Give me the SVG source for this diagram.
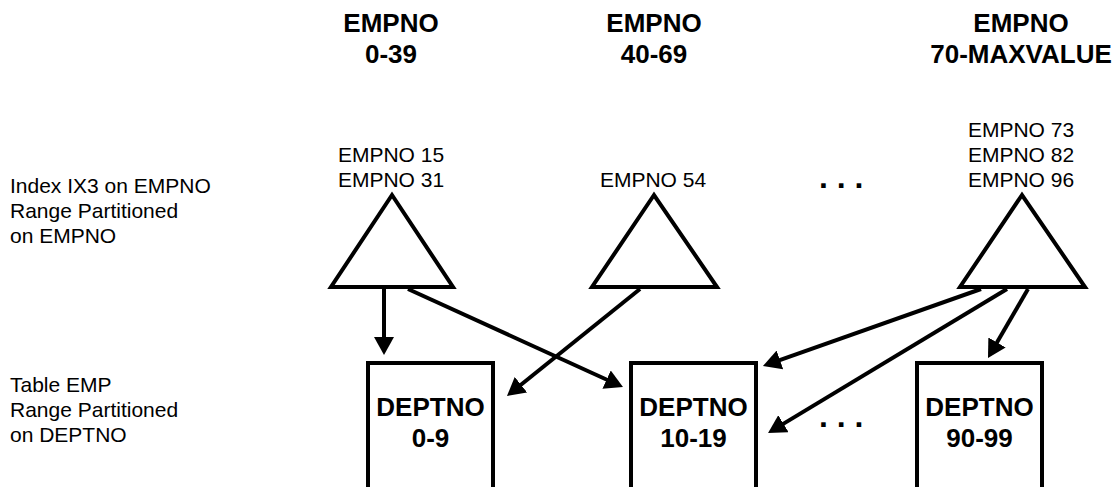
<svg xmlns="http://www.w3.org/2000/svg" width="1117" height="487" viewBox="0 0 1117 487">
<style>
.hdr{font-family:"Liberation Sans",Arial,sans-serif;font-weight:bold;font-size:26px;text-anchor:middle;fill:#000}
.sm{font-family:"Liberation Sans",Arial,sans-serif;font-size:21px;fill:#000}
.mid{text-anchor:middle}
.box{fill:#fff;stroke:#000;stroke-width:4}
.tri{fill:#fff;stroke:#000;stroke-width:4;stroke-linejoin:miter}
.con{stroke:#000;stroke-width:4;fill:none;marker-end:url(#ah)}
.dots{font-family:"Liberation Sans",Arial,sans-serif;font-weight:bold;font-size:32px;fill:#000}
</style>
<defs>
<marker id="ah" viewBox="0 0 18 20" refX="10" refY="10" markerWidth="18" markerHeight="20" markerUnits="userSpaceOnUse" orient="auto">
<path d="M0,0 L18,10 L0,20 z" fill="#000"/>
</marker>
</defs>
<rect width="1117" height="487" fill="#fff"/>
<g id="headers">
<text class="hdr" x="391" y="32">EMPNO</text>
<text class="hdr" x="391" y="63">0-39</text>
<text class="hdr" x="654" y="32">EMPNO</text>
<text class="hdr" x="654" y="63">40-69</text>
<text class="hdr" x="1021" y="32">EMPNO</text>
<text class="hdr" x="1021" y="63">70-MAXVALUE</text>
</g>
<g id="labels">
<text class="sm" x="10" y="193">Index IX3 on EMPNO</text>
<text class="sm" x="10" y="218">Range Partitioned</text>
<text class="sm" x="10" y="243">on EMPNO</text>
<text class="sm" x="10" y="392">Table EMP</text>
<text class="sm" x="10" y="417">Range Partitioned</text>
<text class="sm" x="10" y="442">on DEPTNO</text>
</g>
<g id="connectors">
<line class="con" x1="384" y1="289" x2="384" y2="347"/>
<line class="con" x1="408" y1="289" x2="615.7" y2="383.7"/>
<line class="con" x1="640" y1="289" x2="513.2" y2="391"/>
<line class="con" x1="981" y1="289" x2="770.5" y2="363.3"/>
<line class="con" x1="1007" y1="289" x2="774.9" y2="428.9"/>
<line class="con" x1="1028" y1="289" x2="992" y2="351.1"/>
</g>
<g id="index1">
<polygon class="tri" points="392,195 331,287 453,287"/>
<text class="sm mid" x="391" y="162">EMPNO 15</text>
<text class="sm mid" x="391" y="187">EMPNO 31</text>
</g>
<g id="index2">
<polygon class="tri" points="654,195 592,287 717,287"/>
<text class="sm mid" x="653" y="187">EMPNO 54</text>
</g>
<g id="index3">
<polygon class="tri" points="1022,195 960,287 1085,287"/>
<text class="sm mid" x="1021" y="137">EMPNO 73</text>
<text class="sm mid" x="1021" y="162">EMPNO 82</text>
<text class="sm mid" x="1021" y="187">EMPNO 96</text>
</g>
<g id="dots">
<text class="dots" x="819" y="188">. . .</text>
<text class="dots" x="819" y="427">. . .</text>
</g>
<g id="part1">
<rect class="box" x="368" y="363" width="125" height="140"/>
<text class="hdr" x="430.5" y="416">DEPTNO</text>
<text class="hdr" x="430.5" y="447">0-9</text>
</g>
<g id="part2">
<rect class="box" x="631" y="363" width="125" height="140"/>
<text class="hdr" x="693.5" y="416">DEPTNO</text>
<text class="hdr" x="693.5" y="447">10-19</text>
</g>
<g id="part3">
<rect class="box" x="917" y="363" width="125" height="140"/>
<text class="hdr" x="979.5" y="416">DEPTNO</text>
<text class="hdr" x="979.5" y="447">90-99</text>
</g>
</svg>
